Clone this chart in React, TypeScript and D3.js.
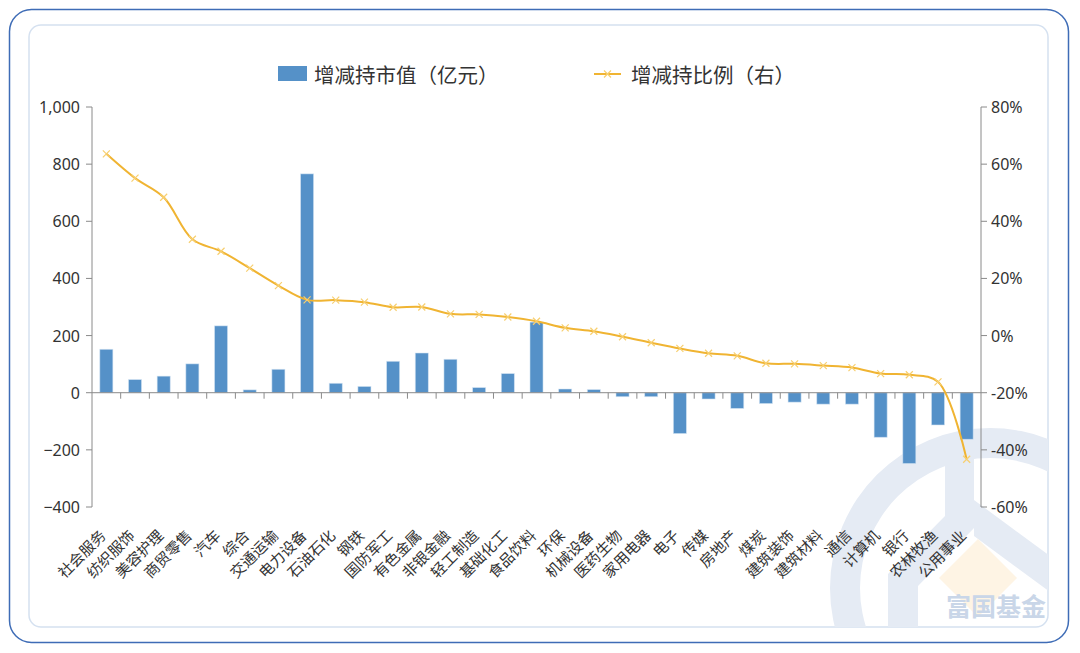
import React from "react";
import * as d3 from "d3";

const categories = ["社会服务","纺织服饰","美容护理","商贸零售","汽车","综合","交通运输","电力设备","石油石化","钢铁","国防军工","有色金属","非银金融","轻工制造","基础化工","食品饮料","环保","机械设备","医药生物","家用电器","电子","传媒","房地产","煤炭","建筑装饰","建筑材料","通信","计算机","银行","农林牧渔","公用事业"];
const marketValue = [152,46,58,101,234,10,82,766,33,22,110,139,117,18,67,247,13,11,-14,-14,-143,-22,-55,-38,-33,-40,-40,-156,-248,-113,-163];
const ratio = [63.6,55.1,48.4,33.7,29.5,23.6,17.5,12.5,12.4,11.7,9.9,10.0,7.6,7.4,6.5,5.0,2.7,1.5,-0.4,-2.5,-4.5,-6.2,-7.1,-9.7,-9.9,-10.5,-11.2,-13.3,-13.7,-16.2,-43.3];
const leftTicks = [-400,-200,0,200,400,600,800,1000];
const rightTicks = [-60,-40,-20,0,20,40,60,80];
const legendBar = "增减持市值（亿元）";
const legendLine = "增减持比例（右）";
const watermarkText = "富国基金";

const W = 1080, H = 653;
const L = 92, R = 981, T = 107, B = 507;
const FONT = "'Noto Sans', 'Noto Sans CJK SC', sans-serif";
const CJK = "'Noto Sans CJK SC', sans-serif";

export default function App() {
  const x = d3.scaleBand<string>().domain(categories).range([L, R]).padding(0);
  const yL = d3.scaleLinear().domain([-400, 1000]).range([B, T]);
  const yR = d3.scaleLinear().domain([-60, 80]).range([B, T]);
  const bw = x.bandwidth() * 0.455;
  const cx = (c: string) => (x(c) as number) + x.bandwidth() / 2;
  const line = d3.line<number>()
    .x((_, i) => cx(categories[i]))
    .y((d) => yR(d))
    .curve(d3.curveCatmullRom.alpha(0.5));
  const fmt = d3.format(",");
  const lineColor = "#F0B432";
  const markColor = "#F7CF70";
  const barColor = "#5591C8";
  const axisColor = "#8a8a8a";
  const textColor = "#333333";
  const wm = "#E5EBF4";
  const cross = (px: number, py: number, s: number, key: any) => (
    <path key={key} d={`M${px - s},${py - s}L${px + s},${py + s}M${px - s},${py + s}L${px + s},${py - s}`} stroke={markColor} strokeWidth={1.2} fill="none" />
  );
  const ringPath = (() => {
    const a = d3.arc()({ innerRadius: 130, outerRadius: 160, startAngle: 0, endAngle: Math.PI * 2 } as any);
    return a as string;
  })();
  return (
    <svg width={W} height={H} style={{ position: "fixed", left: 0, top: 0, background: "#fff" }}>
      <defs>
        <clipPath id="innerClip">
          <rect x={29} y={25} width={1019} height={602} rx={12} />
        </clipPath>
      </defs>
      <rect x={9.5} y={9.5} width={1059} height={633} rx={22} fill="#fff" stroke="#3E6CB6" strokeWidth={1.5} />
      <rect x={29} y={25} width={1019} height={602} rx={12} fill="#fff" stroke="#D5E1F0" strokeWidth={1.5} />
      <g clipPath="url(#innerClip)">
        <path d={ringPath} transform="translate(990,588)" fill={wm} />
        <polygon points="945,455 974,455 974,528 918,586 918,640 888,640 888,574 945,516" fill={wm} />
        <polygon points="974,500 1050,556 1050,592 974,536" fill={wm} />
        <polygon points="978,539 1017,578 978,617 939,578" fill="#FEF4E4" />
        <text x={996} y={616} textAnchor="middle" fontFamily={CJK} fontWeight={700} fontSize={25} fill="#C9D6E8">{watermarkText}</text>
      </g>

      {/* legend */}
      <rect x={278} y={66} width={29} height={15} fill={barColor} />
      <text x={314} y={74} dominantBaseline="central" fontFamily={CJK} fontSize={20.5} fill={textColor}>{legendBar}</text>
      <line x1={594} x2={621} y1={74} y2={74} stroke={lineColor} strokeWidth={2} />
      {cross(607.5, 74, 3.5, "lg")}
      <text x={631} y={74} dominantBaseline="central" fontFamily={CJK} fontSize={20.5} fill={textColor}>{legendLine}</text>

      {/* left axis */}
      <line x1={L} x2={L} y1={T} y2={B} stroke={axisColor} strokeWidth={1} />
      {leftTicks.map((t) => (
        <g key={"l" + t}>
          <line x1={L - 6} x2={L} y1={yL(t)} y2={yL(t)} stroke={axisColor} />
          <text x={80} y={yL(t)} textAnchor="end" dominantBaseline="central" fontFamily={FONT} fontSize={16} fill={textColor}>{fmt(t)}</text>
        </g>
      ))}
      {/* right axis */}
      <line x1={R} x2={R} y1={T} y2={B} stroke={axisColor} strokeWidth={1} />
      {rightTicks.map((t) => (
        <g key={"r" + t}>
          <line x1={R} x2={R + 6} y1={yR(t)} y2={yR(t)} stroke={axisColor} />
          <text x={991} y={yR(t)} textAnchor="start" dominantBaseline="central" fontFamily={FONT} fontSize={16} fill={textColor}>{t + "%"}</text>
        </g>
      ))}

      {/* bars */}
      {categories.map((c, i) => {
        const v = marketValue[i];
        const y0 = yL(0), y1 = yL(v);
        return (
          <rect key={c} x={cx(c) - bw / 2} y={Math.min(y0, y1)} width={bw} height={Math.abs(y1 - y0)} fill={barColor} stroke="#d6e5f3" strokeOpacity={0.7} strokeWidth={0.8} />
        );
      })}

      {/* zero axis with category ticks */}
      <line x1={L} x2={R} y1={yL(0)} y2={yL(0)} stroke={axisColor} strokeWidth={1} />
      {categories.slice(1).map((c) => (
        <line key={"t" + c} x1={x(c) as number} x2={x(c) as number} y1={yL(0)} y2={yL(0) + 6} stroke={axisColor} />
      ))}

      {/* line */}
      <path d={line(ratio) as string} fill="none" stroke={lineColor} strokeWidth={2} />
      {ratio.map((v, i) => cross(cx(categories[i]), yR(v), 3.5, "m" + i))}

      {/* x labels */}
      {categories.map((c) => (
        <text key={"x" + c} transform={`translate(${cx(c) - 4},${532}) rotate(-45)`} textAnchor="end" dominantBaseline="central" fontFamily={CJK} fontSize={15} fill={textColor}>{c}</text>
      ))}
    </svg>
  );
}
